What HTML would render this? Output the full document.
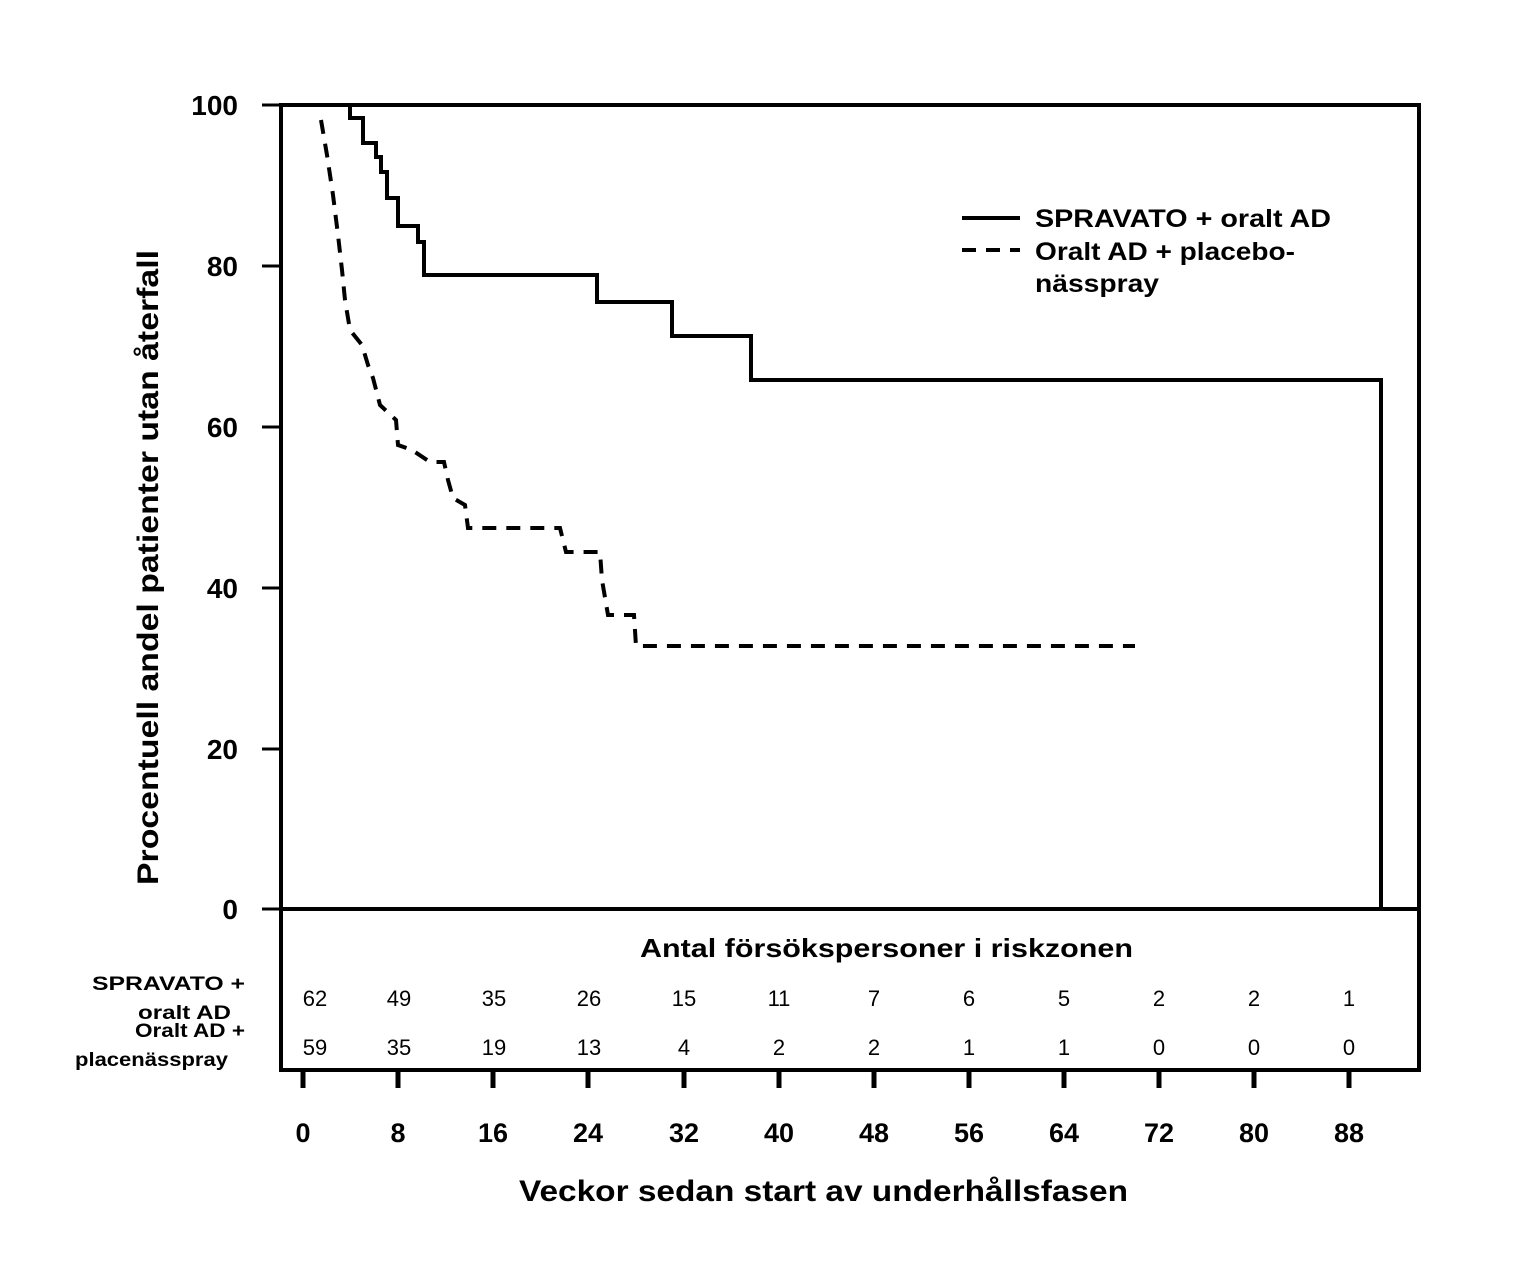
<!DOCTYPE html>
<html><head><meta charset="utf-8"><style>body{margin:0;background:#fff}</style></head><body>
<svg width="1526" height="1265" viewBox="0 0 1526 1265" xmlns="http://www.w3.org/2000/svg" font-family="Liberation Sans, sans-serif">
<rect width="1526" height="1265" fill="#fff"/>
<rect x="281" y="105" width="1138" height="804" fill="none" stroke="#000" stroke-width="4"/>
<rect x="281" y="909" width="1138" height="161" fill="none" stroke="#000" stroke-width="4"/>
<g stroke="#000" stroke-width="3">
<line x1="262" y1="105" x2="281" y2="105"/><line x1="262" y1="266" x2="281" y2="266"/><line x1="262" y1="427" x2="281" y2="427"/><line x1="262" y1="588" x2="281" y2="588"/><line x1="262" y1="749" x2="281" y2="749"/><line x1="262" y1="909" x2="281" y2="909"/>
</g>
<g stroke="#000" stroke-width="5">
<line x1="303" y1="1072" x2="303" y2="1088"/><line x1="398" y1="1072" x2="398" y2="1088"/><line x1="493" y1="1072" x2="493" y2="1088"/><line x1="588" y1="1072" x2="588" y2="1088"/><line x1="684" y1="1072" x2="684" y2="1088"/><line x1="779" y1="1072" x2="779" y2="1088"/><line x1="874" y1="1072" x2="874" y2="1088"/><line x1="969" y1="1072" x2="969" y2="1088"/><line x1="1064" y1="1072" x2="1064" y2="1088"/><line x1="1159" y1="1072" x2="1159" y2="1088"/><line x1="1254" y1="1072" x2="1254" y2="1088"/><line x1="1349" y1="1072" x2="1349" y2="1088"/>
</g>
<g font-size="28" font-weight="bold" text-anchor="end">
<text x="238" y="115">100</text><text x="238" y="276">80</text><text x="238" y="437">60</text><text x="238" y="598">40</text><text x="238" y="759">20</text><text x="238" y="919">0</text>
</g>
<g font-size="27" font-weight="bold" text-anchor="middle">
<text x="303" y="1142">0</text><text x="398" y="1142">8</text><text x="493" y="1142">16</text><text x="588" y="1142">24</text><text x="684" y="1142">32</text><text x="779" y="1142">40</text><text x="874" y="1142">48</text><text x="969" y="1142">56</text><text x="1064" y="1142">64</text><text x="1159" y="1142">72</text><text x="1254" y="1142">80</text><text x="1349" y="1142">88</text>
</g>
<text x="519" y="1201" font-size="30" font-weight="bold" textLength="609" lengthAdjust="spacingAndGlyphs">Veckor sedan start av underhållsfasen</text>
<text transform="translate(158,885) rotate(-90)" font-size="30" font-weight="bold" textLength="635" lengthAdjust="spacingAndGlyphs">Procentuell andel patienter utan återfall</text>
<text x="640" y="957" font-size="26" font-weight="bold" textLength="493" lengthAdjust="spacingAndGlyphs">Antal försökspersoner i riskzonen</text>
<g font-size="22" text-anchor="middle">
<text x="315" y="1006">62</text><text x="399" y="1006">49</text><text x="494" y="1006">35</text><text x="589" y="1006">26</text><text x="684" y="1006">15</text><text x="779" y="1006">11</text><text x="874" y="1006">7</text><text x="969" y="1006">6</text><text x="1064" y="1006">5</text><text x="1159" y="1006">2</text><text x="1254" y="1006">2</text><text x="1349" y="1006">1</text>
<text x="315" y="1055">59</text><text x="399" y="1055">35</text><text x="494" y="1055">19</text><text x="589" y="1055">13</text><text x="684" y="1055">4</text><text x="779" y="1055">2</text><text x="874" y="1055">2</text><text x="969" y="1055">1</text><text x="1064" y="1055">1</text><text x="1159" y="1055">0</text><text x="1254" y="1055">0</text><text x="1349" y="1055">0</text>
</g>
<g font-size="19" font-weight="bold">
<text x="92" y="990" textLength="153" lengthAdjust="spacingAndGlyphs">SPRAVATO +</text><text x="138" y="1019" textLength="93" lengthAdjust="spacingAndGlyphs">oralt AD</text><text x="135" y="1037" textLength="110" lengthAdjust="spacingAndGlyphs">Oralt AD +</text><text x="75" y="1066" textLength="153" lengthAdjust="spacingAndGlyphs">placenässpray</text>
</g>
<polyline fill="none" stroke="#000" stroke-width="4" points="350,105 350,118 363,118 363,143 376,143 376,157 381,157 381,172 387,172 387,198 398,198 398,226 418,226 418,242 424,242 424,275 597,275 597,302 672,302 672,336 751,336 751,380 1381,380 1381,909"/>
<polyline fill="none" stroke="#000" stroke-width="4" stroke-dasharray="14,10" points="321,120 327,155 333,195 338,235 342,270 345,300 350,330 362,345 368,365 373,378 380,405 396,420 398,445 412,450 430,462 444,462 448,480 453,498 465,505 468,528 560,528 566,552 600,552 602,580 608,615 634,615 636,646 1135,646"/>
<line x1="962" y1="218" x2="1020" y2="218" stroke="#000" stroke-width="4"/>
<line x1="962" y1="250" x2="1020" y2="250" stroke="#000" stroke-width="4" stroke-dasharray="14,10"/>
<g font-size="25" font-weight="bold">
<text x="1035" y="227" textLength="296" lengthAdjust="spacingAndGlyphs">SPRAVATO + oralt AD</text><text x="1035" y="260" textLength="260" lengthAdjust="spacingAndGlyphs">Oralt AD + placebo-</text><text x="1035" y="292" textLength="124" lengthAdjust="spacingAndGlyphs">nässpray</text>
</g>
</svg>
</body></html>
